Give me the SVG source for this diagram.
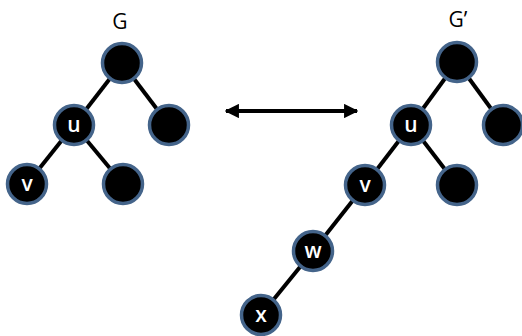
<svg xmlns="http://www.w3.org/2000/svg" width="522" height="336" viewBox="0 0 522 336">
<style>
.n{fill:#000;stroke:#44648a;stroke-width:3.5}
.e{stroke:#000;stroke-width:4;fill:none}
.t{font-family:"Open Sans","Liberation Sans",sans-serif;font-size:21px;font-weight:600;fill:#fff;text-anchor:middle}
.g{font-family:"Open Sans","Liberation Sans",sans-serif;font-size:21px;fill:#000;text-anchor:middle}
</style>
<defs>
<marker id="ah" viewBox="0 0 10 10" refX="9" refY="5" markerWidth="3.6" markerHeight="3.6" orient="auto-start-reverse">
<path d="M0,0 L10,5 L0,10 z" fill="#000"/>
</marker>
</defs>
<g id="connectors">
<line class="e" x1="122" y1="63" x2="74" y2="125"/>
<line class="e" x1="122" y1="63" x2="169" y2="125"/>
<line class="e" x1="74" y1="125" x2="27" y2="184"/>
<line class="e" x1="74" y1="125" x2="123" y2="184"/>
<line class="e" x1="457" y1="62" x2="411" y2="125"/>
<line class="e" x1="457" y1="62" x2="503" y2="125"/>
<line class="e" x1="411" y1="125" x2="365" y2="185"/>
<line class="e" x1="411" y1="125" x2="457" y2="185"/>
<line class="e" x1="365" y1="185" x2="313" y2="251"/>
<line class="e" x1="313" y1="251" x2="261" y2="315"/>
<line x1="226" y1="111" x2="357" y2="111" stroke="#000" stroke-width="4" marker-start="url(#ah)" marker-end="url(#ah)"/>
</g>
<text class="g" x="120" y="29">G</text>
<text class="g" x="458" y="27">G’</text>
<g id="G-root"><circle class="n" cx="122" cy="63" r="19.5"/></g>
<g id="G-u"><circle class="n" cx="74" cy="125" r="19.5"/><text class="t" x="74" y="132">u</text></g>
<g id="G-right"><circle class="n" cx="169" cy="125" r="19.5"/></g>
<g id="G-v"><circle class="n" cx="27" cy="184" r="19.5"/><text class="t" x="27" y="191">v</text></g>
<g id="G-uright"><circle class="n" cx="123" cy="184" r="19.5"/></g>
<g id="H-root"><circle class="n" cx="457" cy="62" r="19.5"/></g>
<g id="H-u"><circle class="n" cx="411" cy="125" r="19.5"/><text class="t" x="411" y="132">u</text></g>
<g id="H-right"><circle class="n" cx="503" cy="125" r="19.5"/></g>
<g id="H-v"><circle class="n" cx="365" cy="185" r="19.5"/><text class="t" x="365" y="192">v</text></g>
<g id="H-uright"><circle class="n" cx="457" cy="185" r="19.5"/></g>
<g id="H-w"><circle class="n" cx="313" cy="251" r="19.5"/><text class="t" x="313" y="258">w</text></g>
<g id="H-x"><circle class="n" cx="261" cy="315" r="19.5"/><text class="t" x="261" y="322">x</text></g>
</svg>
